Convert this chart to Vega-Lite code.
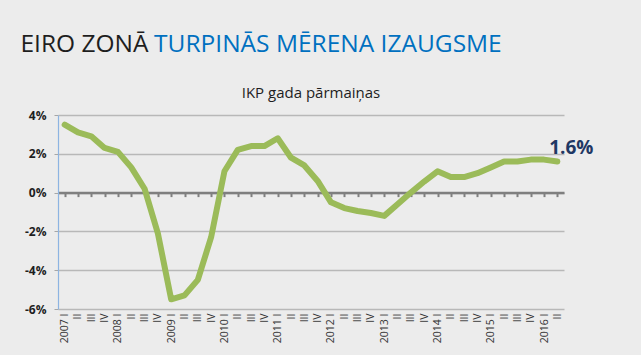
{
  "$schema": "https://vega.github.io/schema/vega-lite/v6.json",
  "background": "#ececec",
  "padding": {"left": 20, "right": 49, "top": 31, "bottom": 15},
  "config": {
    "view": {"stroke": null},
    "font": "Open Sans",
    "concat": {"spacing": 0}
  },
  "title": {
    "text": "EIRO ZONĀ",
    "subtitle": "\u200b\u00a0\u00a0\u00a0\u00a0\u00a0\u00a0\u00a0\u00a0\u00a0\u00a0\u00a0\u00a0\u00a0\u00a0\u00a0\u00a0\u00a0\u00a0\u00a0\u00a0\u00a0TURPINĀS MĒRENA IZAUGSME",
    "anchor": "start",
    "font": "Open Sans",
    "subtitleFont": "Open Sans",
    "fontSize": 24.5,
    "subtitleFontSize": 24.5,
    "fontWeight": "normal",
    "subtitleFontWeight": "normal",
    "color": "#1e1e1e",
    "subtitleColor": "#0070c0",
    "subtitlePadding": -24.5,
    "offset": 29,
    "dx": -4
  },
  "vconcat": [
    {
      "width": 506,
      "height": 194,
      "title": {
        "text": "IKP gada pārmaiņas",
        "fontSize": 15,
        "fontWeight": "normal",
        "color": "#1e1e1e",
        "offset": 8,
        "anchor": "middle"
      },
      "data": {
        "values": [
          {"q": "2007 I", "v": 3.5}, {"q": "2007 II", "v": 3.1}, {"q": "2007 III", "v": 2.9}, {"q": "2007 IV", "v": 2.3},
          {"q": "2008 I", "v": 2.1}, {"q": "2008 II", "v": 1.3}, {"q": "2008 III", "v": 0.2}, {"q": "2008 IV", "v": -2.1},
          {"q": "2009 I", "v": -5.5}, {"q": "2009 II", "v": -5.3}, {"q": "2009 III", "v": -4.5}, {"q": "2009 IV", "v": -2.3},
          {"q": "2010 I", "v": 1.1}, {"q": "2010 II", "v": 2.2}, {"q": "2010 III", "v": 2.4}, {"q": "2010 IV", "v": 2.4},
          {"q": "2011 I", "v": 2.8}, {"q": "2011 II", "v": 1.8}, {"q": "2011 III", "v": 1.4}, {"q": "2011 IV", "v": 0.6},
          {"q": "2012 I", "v": -0.5}, {"q": "2012 II", "v": -0.8}, {"q": "2012 III", "v": -0.95}, {"q": "2012 IV", "v": -1.05},
          {"q": "2013 I", "v": -1.2}, {"q": "2013 II", "v": -0.6}, {"q": "2013 III", "v": 0.0}, {"q": "2013 IV", "v": 0.57},
          {"q": "2014 I", "v": 1.1}, {"q": "2014 II", "v": 0.8}, {"q": "2014 III", "v": 0.8}, {"q": "2014 IV", "v": 1.0},
          {"q": "2015 I", "v": 1.3}, {"q": "2015 II", "v": 1.6}, {"q": "2015 III", "v": 1.6}, {"q": "2015 IV", "v": 1.7},
          {"q": "2016 I", "v": 1.7}, {"q": "2016 II", "v": 1.6}
        ]
      },
      "resolve": {"axis": {"x": "independent"}},
      "encoding": {
        "y": {
          "field": "v", "type": "quantitative",
          "scale": {"domain": [-6, 4], "nice": false},
          "axis": {
            "title": null,
            "values": [-6, -4, -2, 0, 2, 4],
            "labelExpr": "datum.value + '%'",
            "labelFontSize": 12,
            "labelFontWeight": "bold",
            "labelColor": "#1e1e1e",
            "labelPadding": 8,
            "domainColor": "#8db4e2",
            "domainWidth": 1.2,
            "tickColor": "#a6a6a6",
            "tickSize": 4,
            "gridColor": "#b8b8b8",
            "gridWidth": 1.3
          }
        }
      },
      "layer": [
        {
          "mark": {"type": "line", "opacity": 0},
          "encoding": {
            "x": {
              "field": "q", "type": "ordinal", "sort": null,
              "scale": {"paddingInner": 0, "paddingOuter": 0},
              "axis": {
                "orient": "bottom",
                "offset": -116.4,
                "labels": false,
                "domain": true,
                "domainColor": "#7f7f7f",
                "domainWidth": 2.5,
                "ticks": true,
                "tickColor": "#7f7f7f",
                "tickWidth": 2,
                "tickSize": 4,
                "bandPosition": 0,
                "grid": false,
                "title": null
              }
            }
          }
        },
        {
          "mark": {"type": "line", "color": "#9bbb59", "strokeWidth": 6, "strokeCap": "round", "strokeJoin": "round"},
          "encoding": {
            "x": {
              "field": "q", "type": "ordinal", "sort": null,
              "scale": {"paddingInner": 0, "paddingOuter": 0},
              "axis": {
                "orient": "bottom",
                "title": null,
                "domain": false,
                "ticks": false,
                "grid": false,
                "labelAngle": 270,
                "labelFontSize": 10.5,
                "labelColor": "#333333",
                "labelPadding": 4,
                "labelExpr": "length(datum.value) == 6 ? datum.value : split(datum.value, ' ')[1]"
              }
            }
          }
        },
        {
          "transform": [{"filter": "datum.q == '2016 II'"}],
          "mark": {"type": "text", "fontSize": 19, "fontWeight": "bold", "color": "#1f3864", "align": "center", "baseline": "alphabetic", "dx": 14, "dy": -8},
          "encoding": {
            "x": {"field": "q", "type": "ordinal", "sort": null, "axis": null},
            "text": {"value": "1.6%"}
          }
        }
      ]
    }
  ]
}
